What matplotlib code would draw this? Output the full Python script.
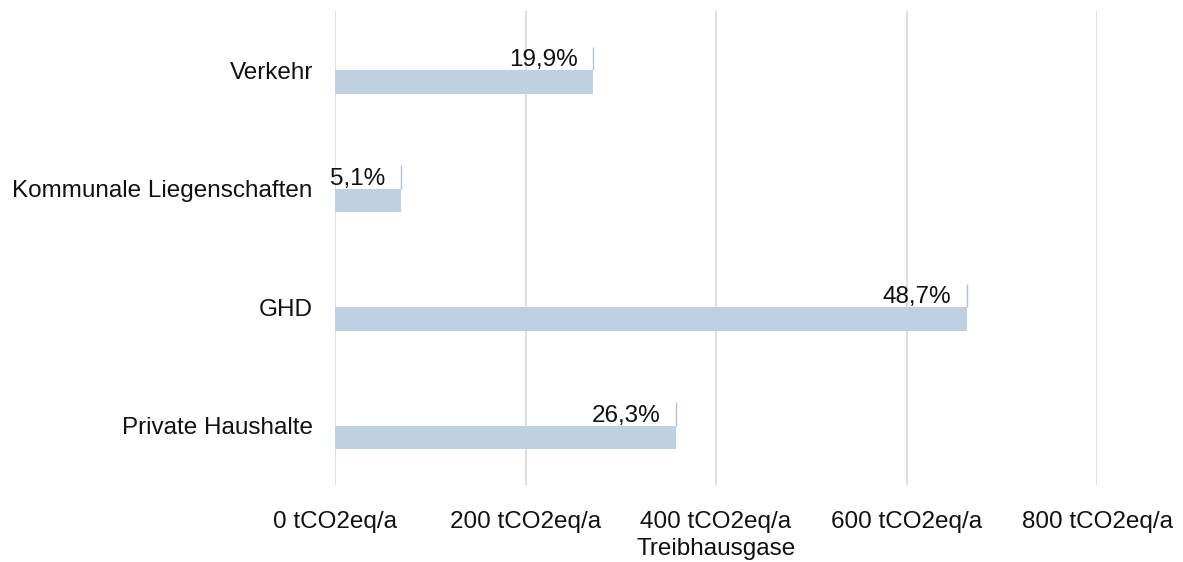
import matplotlib
matplotlib.use("Agg")
import matplotlib.pyplot as plt
from matplotlib.ticker import FuncFormatter

plt.rcParams['font.family'] = ['Liberation Sans', 'DejaVu Sans']

# Greenhouse gas emissions by sector (tCO2eq/a) and share of total
categories = ["Private Haushalte", "GHD", "Kommunale Liegenschaften", "Verkehr"]
emissions = [358, 663, 69, 271]
shares = ["26,3%", "48,7%", "5,1%", "19,9%"]
x_ticks = [0, 200, 400, 600, 800]

bar_color = "#bfd0e3"
edge_color = "#b4c2d3"
grid_color = "#d9d9d9"
text_color = "#111111"
fs = 17.5

fig = plt.figure(figsize=(11.83, 5.62), dpi=100)
ax = fig.add_axes([335 / 1183, 1 - 485 / 562, 762 / 1183, 474 / 562])

pos = list(range(len(categories)))
bh = 0.2

# visible bar below the category centre
ax.barh([p - bh / 2 for p in pos], emissions, height=bh, color=bar_color, zorder=2)
# empty companion bar above: only its right edge shows
ax.vlines(emissions, [p for p in pos], [p + bh for p in pos],
          color=edge_color, linewidth=1.0, zorder=2)

for p, v, s in zip(pos, emissions, shares):
    ax.annotate(s, xy=(v, p + bh / 2), xytext=(-15, -2), textcoords="offset pixels",
                ha="right", va="center", fontsize=fs, color=text_color, zorder=3)

ax.set_xlim(0, 800)
ax.set_ylim(-0.5, len(categories) - 0.5)
ax.set_xticks(x_ticks)
ax.xaxis.set_major_formatter(FuncFormatter(lambda v, _: f"{int(v)} tCO2eq/a"))
ax.set_yticks(pos)
ax.set_yticklabels(categories)

ax.grid(axis="x", color=grid_color, linewidth=1.2, zorder=0)
ax.set_axisbelow(True)
for sp in ax.spines.values():
    sp.set_visible(False)
ax.tick_params(axis="both", length=0, labelsize=fs, colors=text_color)
ax.tick_params(axis="x", pad=19)
ax.tick_params(axis="y", pad=16)

ax.set_xlabel("Treibhausgase", fontsize=fs, color=text_color, labelpad=3)

fig.savefig("out.png", dpi=100)
